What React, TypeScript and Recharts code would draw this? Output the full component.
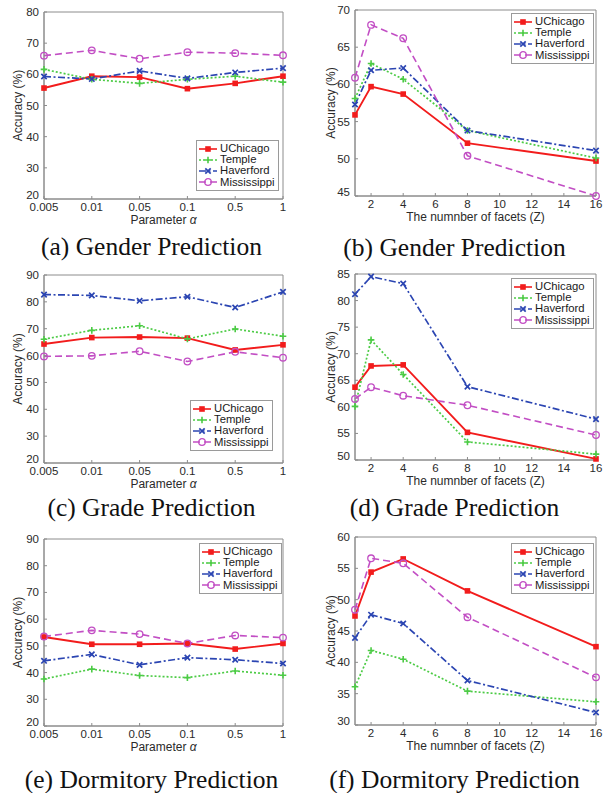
import React from 'react';
import { LineChart, Line, XAxis, YAxis, ReferenceArea, Legend } from 'recharts';

const SERIES = ['UChicago', 'Temple', 'Haverford', 'Mississippi'];

const alphaLabels = ['0.005', '0.01', '0.05', '0.1', '0.5', '1'];
const facetCounts = [1, 2, 4, 8, 16];
const facetTicks = [2, 4, 6, 8, 10, 12, 14, 16];

// (a) gender vs alpha
const genderAlpha: Record<string, number[]> = {
  UChicago: [55.6, 59.4, 59.1, 55.4, 57.1, 59.4],
  Temple: [61.6, 58.4, 57.1, 58.4, 59.4, 57.5],
  Haverford: [59.3, 58.5, 61.1, 58.7, 60.6, 62.0],
  Mississippi: [66.0, 67.7, 65.0, 67.1, 66.8, 66.1],
};
// (b) gender vs facets
const genderFacets: Record<string, number[]> = {
  UChicago: [55.9, 59.7, 58.7, 52.1, 49.7],
  Temple: [58.1, 62.8, 60.7, 53.8, 50.1],
  Haverford: [57.3, 61.9, 62.2, 53.8, 51.1],
  Mississippi: [60.9, 68.0, 66.2, 50.4, 45.0],
};
// (c) grade vs alpha
const gradeAlpha: Record<string, number[]> = {
  UChicago: [64.3, 66.7, 66.9, 66.5, 62.1, 64.0],
  Temple: [66.1, 69.4, 71.1, 66.2, 69.9, 67.2],
  Haverford: [82.7, 82.4, 80.4, 81.9, 77.9, 83.7],
  Mississippi: [59.7, 59.9, 61.6, 57.8, 61.4, 59.2],
};
// (d) grade vs facets
const gradeFacets: Record<string, number[]> = {
  UChicago: [63.7, 67.7, 67.9, 55.2, 50.2],
  Temple: [60.1, 72.6, 66.1, 53.4, 51.1],
  Haverford: [81.2, 84.5, 83.2, 63.8, 57.7],
  Mississippi: [61.5, 63.7, 62.1, 60.3, 54.7],
};
// (e) dormitory vs alpha
const dormAlpha: Record<string, number[]> = {
  UChicago: [53.3, 50.6, 50.6, 50.9, 48.8, 50.9],
  Temple: [37.6, 41.3, 38.9, 38.1, 40.6, 39.0],
  Haverford: [44.4, 46.8, 42.9, 45.6, 44.8, 43.4],
  Mississippi: [53.5, 55.8, 54.4, 50.9, 53.9, 53.1],
};
// (f) dormitory vs facets
const dormFacets: Record<string, number[]> = {
  UChicago: [47.4, 54.4, 56.5, 51.4, 42.5],
  Temple: [36.1, 41.9, 40.5, 35.4, 33.7],
  Haverford: [43.9, 47.6, 46.2, 37.1, 32.0],
  Mississippi: [48.4, 56.6, 55.8, 47.2, 37.6],
};

const SANS = '"Liberation Sans", Arial, Helvetica, sans-serif';
const SERIF = '"Liberation Serif", "Times New Roman", serif';
const AXIS = '#8c8c8c';
const TEXT = '#2a2a2a';
const TICK_FS = 11.5;

const styles: Record<string, { color: string; dash?: string; marker: string; width: number }> = {
  UChicago: { color: '#f21c1c', marker: 'square', width: 1.9 },
  Temple: { color: '#4ccb45', dash: '2 2', marker: 'plus', width: 1.7 },
  Haverford: { color: '#2b45b2', dash: '7 2.5 2 2.5', marker: 'cross', width: 1.7 },
  Mississippi: { color: '#c24ec4', dash: '7 4', marker: 'circle', width: 1.6 },
};

function toRows(xKey: string, xs: (string | number)[], values: Record<string, number[]>) {
  return xs.map((x, i) => {
    const row: Record<string, string | number> = { [xKey]: x };
    SERIES.forEach((s) => {
      row[s] = values[s][i];
    });
    return row;
  });
}

function Marker({ kind, cx, cy, color }: { kind: string; cx: number; cy: number; color: string }) {
  if (kind === 'square') {
    return <rect x={cx - 2.8} y={cy - 2.8} width={5.6} height={5.6} fill={color} />;
  }
  if (kind === 'plus') {
    return (
      <path d={`M${cx - 3.3},${cy}H${cx + 3.3}M${cx},${cy - 3.3}V${cy + 3.3}`} stroke={color} strokeWidth={1.6} />
    );
  }
  if (kind === 'cross') {
    return (
      <path
        d={`M${cx - 2.7},${cy - 2.7}L${cx + 2.7},${cy + 2.7}M${cx - 2.7},${cy + 2.7}L${cx + 2.7},${cy - 2.7}`}
        stroke={color}
        strokeWidth={1.7}
      />
    );
  }
  return <circle cx={cx} cy={cy} r={3.3} fill="none" stroke={color} strokeWidth={1.3} />;
}

function LegendBox() {
  return (
    <div
      style={{
        border: '1px solid #9a9a9a',
        background: '#fff',
        padding: '2px 3px 2px 1px',
        fontFamily: SANS,
        fontSize: 11.3,
        color: '#1a1a1a',
      }}
    >
      {SERIES.map((s) => (
        <div key={s} style={{ display: 'flex', alignItems: 'center', height: 11.2, lineHeight: '11px' }}>
          <svg width={20} height={10} style={{ display: 'block' }}>
            <line x1={1} y1={5} x2={19} y2={5} stroke={styles[s].color} strokeWidth={1.6} strokeDasharray={styles[s].dash} />
            <Marker kind={styles[s].marker} cx={10} cy={5} color={styles[s].color} />
          </svg>
          <span style={{ marginLeft: 2 }}>{s}</span>
        </div>
      ))}
    </div>
  );
}

// lowest y label sits a little higher, as in the original figure
function YTick(props: any) {
  const { x, y, payload, bottomValue } = props;
  const lift = payload.value === bottomValue ? -4 : 0;
  return (
    <text x={x} y={y + lift} textAnchor="end" dominantBaseline="central" fill={TEXT} fontSize={TICK_FS} fontFamily={SANS}>
      {payload.value}
    </text>
  );
}

interface PanelProps {
  col: number;
  top: number;
  height: number;
  marginTop: number;
  data: Record<string, string | number>[];
  facets: boolean;
  yDomain: [number, number];
  yTicks: number[];
  legendLeft: number;
  legendTop: number;
  caption: string;
  captionY: number;
}

function Panel(p: PanelProps) {
  const yAxisWidth = p.facets ? 52 : 44;
  const marginRight = p.facets ? 10 : 20;
  const plotBottom = p.height - 28;
  const plotCenterX = (yAxisWidth + 303 - marginRight) / 2;
  const plotCenterY = (p.marginTop + plotBottom) / 2;
  const yLabelX = p.facets ? 28 : 18;
  const xKey = p.facets ? 'facets' : 'alpha';

  return (
    <>
      <div style={{ position: 'absolute', left: p.col * 303, top: p.top }}>
        <LineChart width={303} height={p.height} data={p.data} margin={{ top: p.marginTop, right: marginRight, bottom: 0, left: 0 }}>
          <XAxis
            dataKey={xKey}
            type={p.facets ? 'number' : 'category'}
            scale={p.facets ? 'linear' : 'point'}
            domain={p.facets ? [1, 16] : undefined}
            ticks={p.facets ? facetTicks : undefined}
            interval={0}
            height={28}
            tickSize={-3}
            tickMargin={7}
            stroke={AXIS}
            tick={{ fill: TEXT, fontSize: TICK_FS, fontFamily: SANS }}
            label={{
              content: () => (
                <text x={plotCenterX} y={plotBottom + 25} textAnchor="middle" fill={TEXT} fontSize={12} fontFamily={SANS}>
                  {p.facets ? (
                    'The numnber of facets (Z)'
                  ) : (
                    <>
                      Parameter <tspan fontStyle="italic">α</tspan>
                    </>
                  )}
                </text>
              ),
            }}
          />
          <YAxis
            type="number"
            domain={p.yDomain}
            ticks={p.yTicks}
            interval={0}
            width={yAxisWidth}
            tickSize={-3}
            tickMargin={8}
            stroke={AXIS}
            tick={<YTick bottomValue={p.yDomain[0]} />}
            label={{
              content: () => (
                <text
                  x={yLabelX}
                  y={plotCenterY}
                  textAnchor="middle"
                  dominantBaseline="central"
                  transform={`rotate(-90 ${yLabelX} ${plotCenterY})`}
                  fill={TEXT}
                  fontSize={12}
                  fontFamily={SANS}
                >
                  Accuracy (%)
                </text>
              ),
            }}
          />
          <ReferenceArea
            x1={p.facets ? facetCounts[0] : alphaLabels[0]}
            x2={p.facets ? facetCounts[facetCounts.length - 1] : alphaLabels[alphaLabels.length - 1]}
            y1={p.yDomain[0]}
            y2={p.yDomain[1]}
            fill="none"
            stroke={AXIS}
            strokeWidth={1}
            fillOpacity={0}
          />
          {SERIES.map((s) => (
            <Line
              key={s}
              dataKey={s}
              type="linear"
              stroke={styles[s].color}
              strokeWidth={styles[s].width}
              strokeDasharray={styles[s].dash}
              activeDot={false}
              isAnimationActive={false}
              dot={(d: any) =>
                d.cx == null || d.cy == null ? (
                  <g key={`${s}-${d.index}`} />
                ) : (
                  <Marker key={`${s}-${d.index}`} kind={styles[s].marker} cx={d.cx} cy={d.cy} color={styles[s].color} />
                )
              }
            />
          ))}
          <Legend
            layout="vertical"
            align="center"
            verticalAlign="middle"
            wrapperStyle={{ left: p.legendLeft, top: p.legendTop, width: 'auto', height: 'auto' }}
            content={<LegendBox />}
          />
        </LineChart>
      </div>
      <div
        style={{
          position: 'absolute',
          left: p.col * 303,
          top: p.captionY - 15,
          width: 303,
          textAlign: 'center',
          fontFamily: SERIF,
          fontSize: 25.5,
          lineHeight: '30px',
          color: '#111',
        }}
      >
        {p.caption}
      </div>
    </>
  );
}

export default function App() {
  const tens2080 = [20, 30, 40, 50, 60, 70, 80];
  const tens2090 = [20, 30, 40, 50, 60, 70, 80, 90];
  return (
    <div style={{ position: 'absolute', left: 0, top: 0, width: 606, height: 793, background: '#fff', overflow: 'hidden' }}>
      <Panel
        col={0}
        top={0}
        height={227}
        marginTop={12}
        data={toRows('alpha', alphaLabels, genderAlpha)}
        facets={false}
        yDomain={[20, 80]}
        yTicks={tens2080}
        legendLeft={196}
        legendTop={140}
        caption="(a) Gender Prediction"
        captionY={247}
      />
      <Panel
        col={1}
        top={0}
        height={224}
        marginTop={10}
        data={toRows('facets', facetCounts, genderFacets)}
        facets
        yDomain={[45, 70]}
        yTicks={[45, 50, 55, 60, 65, 70]}
        legendLeft={208}
        legendTop={13}
        caption="(b) Gender Prediction"
        captionY={248}
      />
      <Panel
        col={0}
        top={260}
        height={231}
        marginTop={15}
        data={toRows('alpha', alphaLabels, gradeAlpha)}
        facets={false}
        yDomain={[20, 90]}
        yTicks={tens2090}
        legendLeft={190}
        legendTop={140}
        caption="(c) Grade Prediction"
        captionY={508}
      />
      <Panel
        col={1}
        top={260}
        height={228}
        marginTop={14}
        data={toRows('facets', facetCounts, gradeFacets)}
        facets
        yDomain={[50, 85]}
        yTicks={[50, 55, 60, 65, 70, 75, 80, 85]}
        legendLeft={208}
        legendTop={18}
        caption="(d) Grade Prediction"
        captionY={508}
      />
      <Panel
        col={0}
        top={530}
        height={224}
        marginTop={9}
        data={toRows('alpha', alphaLabels, dormAlpha)}
        facets={false}
        yDomain={[20, 90]}
        yTicks={tens2090}
        legendLeft={199}
        legendTop={13}
        caption="(e) Dormitory Prediction"
        captionY={780}
      />
      <Panel
        col={1}
        top={530}
        height={223}
        marginTop={7}
        data={toRows('facets', facetCounts, dormFacets)}
        facets
        yDomain={[30, 60]}
        yTicks={[30, 35, 40, 45, 50, 55, 60]}
        legendLeft={208}
        legendTop={13}
        caption="(f) Dormitory Prediction"
        captionY={780}
      />
    </div>
  );
}
